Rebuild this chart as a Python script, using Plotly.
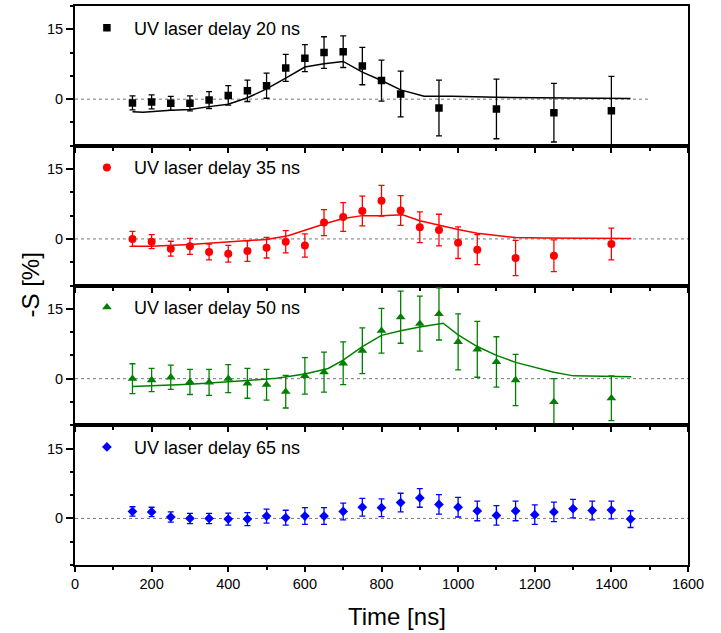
import plotly.graph_objects as go

# ---------------- data ----------------
t20 = [150, 200, 250, 300, 350, 400, 450, 500, 550, 600, 650, 700, 750, 800, 850, 950, 1100, 1250, 1400]
s20 = [-0.8, -0.6, -0.9, -0.9, -0.2, 0.8, 1.8, 2.9, 6.7, 8.8, 10.0, 10.2, 7.1, 4.0, 1.1, -1.9, -2.1, -2.9, -2.5]
e20 = [1.5, 1.5, 1.5, 1.6, 1.8, 2.1, 2.3, 2.7, 2.9, 2.9, 3.4, 3.4, 4.0, 4.4, 4.9, 6.0, 6.4, 6.3, 7.4]
fit20_t = [150, 178, 250, 300, 350, 400, 450, 500, 550, 600, 650, 700, 750, 800, 850, 911, 985, 1100, 1370, 1450]
fit20_s = [-2.7, -2.8, -2.4, -2.2, -1.6, -1.1, 0.3, 2.2, 4.5, 6.9, 7.6, 8.1, 5.8, 4.0, 2.0, 0.65, 0.65, 0.4, 0.2, 0.15]

t35 = [150, 200, 250, 300, 350, 400, 450, 500, 550, 600, 650, 700, 750, 800, 850, 900, 950, 1000, 1050, 1150, 1250, 1400]
s35 = [0.0, -0.6, -2.1, -1.6, -2.8, -3.2, -2.6, -1.9, -0.6, -1.4, 3.5, 4.7, 6.0, 8.2, 6.1, 2.5, 1.9, -0.8, -2.3, -4.1, -3.6, -1.1]
e35 = [1.6, 1.5, 1.6, 1.7, 1.7, 1.8, 2.2, 2.2, 2.4, 2.5, 2.8, 3.1, 3.2, 3.3, 3.2, 3.3, 3.4, 3.4, 3.2, 3.8, 3.4, 3.4]
fit35_t = [150, 200, 300, 400, 500, 556, 600, 650, 700, 750, 800, 855, 900, 950, 1000, 1050, 1150, 1222, 1452]
fit35_s = [-1.6, -1.6, -1.2, -0.6, -0.1, 0.7, 1.9, 3.2, 4.4, 5.0, 5.0, 5.2, 3.9, 2.9, 2.0, 1.2, 0.3, 0.2, 0.1]

t50 = [150, 200, 250, 300, 350, 400, 450, 500, 550, 600, 650, 700, 750, 800, 850, 900, 950, 1000, 1050, 1100, 1150, 1250, 1400]
s50 = [0.0, -0.3, 0.3, -0.7, -0.8, 0.0, -1.0, -1.3, -2.8, 0.6, 1.4, 3.3, 6.0, 10.3, 13.2, 11.8, 13.9, 7.9, 6.3, 3.6, -0.3, -5.0, -4.2]
e50 = [3.2, 2.5, 2.6, 2.7, 2.8, 3.0, 3.2, 3.3, 3.5, 3.9, 4.3, 4.6, 4.9, 4.8, 5.6, 5.9, 5.6, 6.0, 6.0, 5.4, 5.5, 5.0, 4.8]
fit50_t = [150, 300, 450, 526, 600, 661, 700, 750, 800, 850, 900, 961, 1000, 1050, 1100, 1150, 1250, 1301, 1452]
fit50_s = [-1.7, -1.2, -0.4, 0.1, 1.0, 2.2, 4.0, 6.9, 9.3, 10.3, 11.1, 11.9, 9.4, 6.9, 5.0, 3.5, 1.4, 0.6, 0.4]

t65 = [150, 200, 250, 300, 350, 400, 450, 500, 550, 600, 650, 700, 750, 800, 850, 900, 950, 1000, 1050, 1100, 1150, 1200, 1250, 1300, 1350, 1400, 1450]
s65 = [1.5, 1.4, 0.3, 0.0, 0.0, -0.15, -0.15, 0.5, 0.15, 0.5, 0.5, 1.5, 2.4, 2.3, 3.4, 4.4, 3.0, 2.4, 1.6, 0.65, 1.6, 0.8, 1.4, 2.1, 1.7, 1.8, -0.15]
e65 = [1.0, 1.0, 1.1, 1.1, 1.1, 1.3, 1.4, 1.5, 1.6, 1.8, 1.8, 1.8, 1.9, 1.9, 2.0, 2.0, 2.1, 2.1, 2.1, 2.1, 2.1, 2.1, 2.1, 2.0, 2.0, 1.9, 1.8]

labels = ["UV laser delay 20 ns", "UV laser delay 35 ns", "UV laser delay 50 ns", "UV laser delay 65 ns"]
x_ticks = [0, 200, 400, 600, 800, 1000, 1200, 1400, 1600]
y_ticks = [0, 15]

# ---------------- figure ----------------
FONT = "Liberation Sans, Arial, sans-serif"
panels = [
    (t20, s20, e20, fit20_t, fit20_s, "#000000", "square", 7.5),
    (t35, s35, e35, fit35_t, fit35_s, "#ff0000", "circle", 8),
    (t50, s50, e50, fit50_t, fit50_s, "#008000", "triangle-up", 8.5),
    (t65, s65, e65, None, None, "#0000ff", "diamond", 7.5),
]

fig = go.Figure()
for k, (t, s, e, ft, fs, col, sym, msz) in enumerate(panels):
    xa = "x" if k == 0 else f"x{k+1}"
    ya = "y" if k == 0 else f"y{k+1}"
    lg = "legend" if k == 0 else f"legend{k+1}"
    if ft is not None:
        fig.add_trace(go.Scatter(x=ft, y=fs, mode="lines", line=dict(color=col, width=1.5),
                                 xaxis=xa, yaxis=ya, showlegend=False, hoverinfo="skip"))
    fig.add_trace(go.Scatter(x=t, y=s, mode="markers", name=labels[k],
                             marker=dict(symbol=sym, size=msz, color=col, line=dict(width=0)),
                             error_y=dict(type="data", array=e, color=col, thickness=1.3, width=3),
                             xaxis=xa, yaxis=ya, legend=lg, showlegend=True))

layout = dict(
    width=721, height=633,
    margin=dict(l=75, r=33, t=4, b=68),
    paper_bgcolor="white", plot_bgcolor="white",
    font=dict(family=FONT, size=14, color="black"),
    showlegend=True,
)

for k in range(4):
    sfx = "" if k == 0 else str(k + 1)
    top = 1 - k * 0.25
    bot = 1 - (k + 1) * 0.25
    layout["xaxis" + sfx] = dict(
        domain=[0, 1], anchor="y" + sfx, range=[0, 1600],
        tickmode="array", tickvals=x_ticks,
        ticks="outside", ticklen=5, tickwidth=1.5, tickcolor="black",
        minor=dict(dtick=100, tick0=0, ticks="outside", ticklen=3, tickwidth=1.5, tickcolor="black"),
        showline=True, linewidth=2, linecolor="black", mirror=True,
        showgrid=False, zeroline=False,
        showticklabels=(k == 3), tickfont=dict(size=14.5, family=FONT),
    )
    if k != 0:
        layout["xaxis" + sfx]["matches"] = "x"
    layout["yaxis" + sfx] = dict(
        domain=[bot, top], anchor="x" + sfx, range=[-10, 20],
        tickmode="array", tickvals=y_ticks,
        ticks="outside", ticklen=7, tickwidth=1.5, tickcolor="black",
        minor=dict(dtick=5, tick0=0, ticks="outside", ticklen=3, tickwidth=1.5, tickcolor="black"),
        showline=True, linewidth=2, linecolor="black", mirror=True,
        showgrid=False, zeroline=False, tickfont=dict(size=14.5, family=FONT),
    )
    # right-side inward ticks
    layout[f"yaxis{k+5}"] = dict(
        overlaying="y" + sfx, side="right", anchor="x" + sfx, range=[-10, 20],
        tickmode="linear", tick0=0, dtick=5, ticks="inside", ticklen=4, tickwidth=1.5,
        tickcolor="black", showticklabels=False, showgrid=False, zeroline=False, showline=False,
    )
    # legend per panel
    ly = 1 - (22 + 140 * k) / 560
    layout["legend" + sfx] = dict(
        x=0.008, y=ly, xanchor="left", yanchor="middle",
        bgcolor="rgba(0,0,0,0)", borderwidth=0, itemwidth=44,
        font=dict(size=18, family=FONT, color="black"),
    )

# top inward ticks of the first panel
layout["xaxis5"] = dict(
    overlaying="x", side="top", anchor="y", range=[0, 1600],
    tickmode="array", tickvals=x_ticks, ticks="inside", ticklen=5, tickwidth=1.5, tickcolor="black",
    minor=dict(dtick=100, tick0=0, ticks="inside", ticklen=3, tickwidth=1.5, tickcolor="black"),
    showticklabels=False, showgrid=False, zeroline=False, showline=False,
)

fig.update_layout(**layout)

# dotted zero lines
for k in range(4):
    sfx = "" if k == 0 else str(k + 1)
    fig.add_shape(type="line", xref=f"x{sfx} domain", yref="y" + sfx,
                  x0=0, x1=(0.935 if k == 0 else 1), y0=0, y1=0,
                  line=dict(color="#777777", width=1, dash="dot"), layer="below")

# axis titles
fig.add_annotation(text="Time [ns]", xref="paper", yref="paper", x=0.525, y=-0.093,
                   xanchor="center", yanchor="middle", showarrow=False,
                   font=dict(size=24, family=FONT, color="black"))
fig.add_annotation(text="-S [%]", xref="paper", yref="paper", x=-0.0734, y=0.5,
                   xanchor="center", yanchor="middle", textangle=-90, showarrow=False,
                   font=dict(size=24, family=FONT, color="black"))

fig.write_html("out.html", config={"displayModeBar": False},
               post_script="document.body.style.margin='0';document.body.style.padding='0';")
